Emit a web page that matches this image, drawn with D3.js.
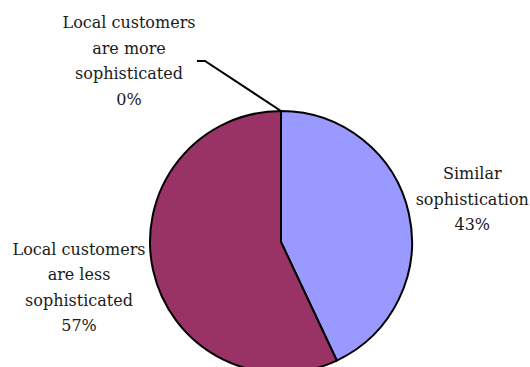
<!DOCTYPE html>
<html>
<head>
<meta charset="utf-8">
<script src="https://cdn.jsdelivr.net/npm/d3@7"></script>
<style>
  html, body { margin: 0; padding: 0; background: #fff; }
  svg { display: block; }
</style>
</head>
<body>
<svg id="chart" width="530" height="367"></svg>
<script>
// Pie slices, in drawing order (clockwise from 12 o'clock)
const categories = [
  "Similar sophistication",
  "Local customers are less sophisticated",
  "Local customers are more sophisticated"
];
const labelLines = [
  ["Similar", "sophistication"],
  ["Local customers", "are less", "sophisticated"],
  ["Local customers", "are more", "sophisticated"]
];
const shares = [43, 57, 0];
const colors = ["#9999FF", "#993366", "#FFFFCC"];

const svg = d3.select("#chart");
const cx = 281, cy = 242, radius = 131;
const g = svg.append("g").attr("transform", `translate(${cx},${cy})`);

const data = categories.map((c, i) => ({ name: c, lines: labelLines[i], value: shares[i], color: colors[i] }));

const pie = d3.pie().sort(null).value(d => d.value).startAngle(0).endAngle(2 * Math.PI);
const arcs = pie(data);
const arc = d3.arc().innerRadius(0).outerRadius(radius);

g.selectAll("path.slice")
  .data(arcs.filter(a => a.endAngle - a.startAngle > 0))
  .join("path")
  .attr("class", "slice")
  .attr("d", arc)
  .attr("fill", d => d.data.color)
  .attr("stroke", "#000")
  .attr("stroke-width", 2)
  .attr("stroke-linejoin", "round");

// Label placement: distance from centre along the slice's mid-angle
const labelRadius = { 0: 196, 1: 207 };
const lineH = 25.5;

arcs.forEach((a, i) => {
  const lines = a.data.lines.concat([d3.format(".0f")(a.data.value) + "%"]);
  let x, y;
  if (a.endAngle - a.startAngle > 0) {
    const mid = (a.startAngle + a.endAngle) / 2;
    const r = labelRadius[i];
    x = r * Math.sin(mid);
    y = -r * Math.cos(mid);
  } else {
    // zero-width slice: label sits up-left with a leader line to the rim
    const edge = [radius * Math.sin(a.startAngle), -radius * Math.cos(a.startAngle)];
    x = -152; y = -181;
    g.append("polyline")
      .attr("points", [[-84, -181], [-76, -181], edge].map(p => p.join(",")).join(" "))
      .attr("fill", "none")
      .attr("stroke", "#000")
      .attr("stroke-width", 2);
  }
  const t = g.append("text")
    .attr("text-anchor", "middle")
    .attr("font-family", "DejaVu Serif")
    .attr("fill", "#1a1a1a")
    .attr("font-size", 16);
  lines.forEach((ln, k) => {
    t.append("tspan")
      .attr("x", x)
      .attr("y", y + (k - (lines.length - 1) / 2) * lineH)
      .attr("dy", "0.35em")
      .text(ln);
  });
});
</script>
</body>
</html>
